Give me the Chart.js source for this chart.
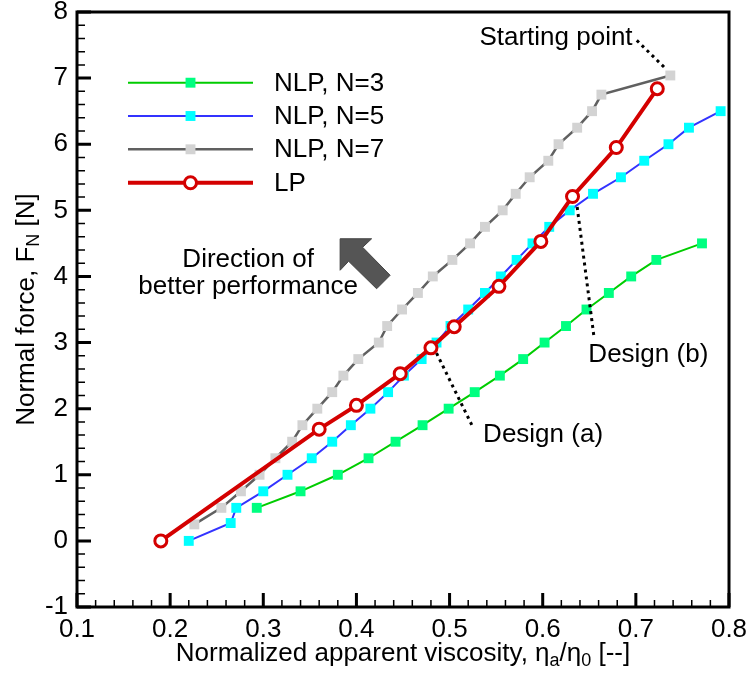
<!DOCTYPE html>
<html>
<head>
<meta charset="utf-8">
<title>Normal force vs. normalized apparent viscosity</title>
<script src="https://cdn.jsdelivr.net/npm/chart.js@4.4.0/dist/chart.umd.min.js"></script>
<style>
  html, body { margin: 0; padding: 0; background: #ffffff; }
  canvas { display: block; }
</style>
</head>
<body>
<canvas id="chart" width="749" height="677"></canvas>
<script>
// ---- Data ----------------------------------------------------------------
// NLP design, N = 3
const n3X = [0.293, 0.340, 0.380, 0.413, 0.442, 0.471, 0.499, 0.527, 0.554, 0.579,
             0.602, 0.625, 0.647, 0.671, 0.695, 0.722, 0.771];
const n3Y = [0.50, 0.75, 1.00, 1.25, 1.50, 1.75, 2.00, 2.25, 2.50, 2.75,
             3.00, 3.25, 3.50, 3.75, 4.00, 4.25, 4.50];

// NLP design, N = 5
const n5X = [0.220, 0.265, 0.271, 0.300, 0.326, 0.352, 0.374, 0.394, 0.415, 0.434,
             0.451, 0.470, 0.486, 0.501, 0.520, 0.538, 0.555, 0.572, 0.589, 0.607,
             0.629, 0.654, 0.684, 0.709, 0.735, 0.757, 0.791];
const n5Y = [0.00, 0.27, 0.50, 0.75, 1.00, 1.25, 1.50, 1.75, 2.00, 2.25,
             2.50, 2.75, 3.00, 3.25, 3.50, 3.75, 4.00, 4.25, 4.50, 4.75,
             5.00, 5.25, 5.50, 5.75, 6.00, 6.25, 6.50];

// NLP design, N = 7
const n7X = [0.226, 0.255, 0.276, 0.296, 0.313, 0.331, 0.342, 0.358, 0.374, 0.386,
             0.402, 0.424, 0.433, 0.449, 0.466, 0.482, 0.503, 0.522, 0.538, 0.557,
             0.571, 0.586, 0.606, 0.617, 0.637, 0.653, 0.663, 0.737];
const n7Y = [0.25, 0.50, 0.75, 1.00, 1.25, 1.50, 1.75, 2.00, 2.25, 2.50,
             2.75, 3.00, 3.25, 3.50, 3.75, 4.00, 4.25, 4.50, 4.75, 5.00,
             5.25, 5.50, 5.75, 6.00, 6.25, 6.50, 6.75, 7.04];

// LP design
const lpX = [0.190, 0.360, 0.400, 0.447, 0.480, 0.505, 0.553, 0.598, 0.632, 0.679, 0.723];
const lpY = [0.00, 1.69, 2.05, 2.53, 2.92, 3.24, 3.85, 4.53, 5.21, 5.95, 6.84];

// Axis ticks
const xTickValues = [0.1, 0.2, 0.3, 0.4, 0.5, 0.6, 0.7, 0.8];
const xTickLabels = ['0.1', '0.2', '0.3', '0.4', '0.5', '0.6', '0.7', '0.8'];
const yTickValues = [-1, 0, 1, 2, 3, 4, 5, 6, 7, 8];
const yTickLabels = ['-1', '0', '1', '2', '3', '4', '5', '6', '7', '8'];

// ---- Styling ---------------------------------------------------------------
const FONT = '"Liberation Sans", Arial, Helvetica, sans-serif';
const FS = 26;

function toPoints(xs, ys) { return xs.map((x, i) => ({ x: x, y: ys[i] })); }

const datasets = [
  {
    label: 'NLP, N=3', data: toPoints(n3X, n3Y), order: 3,
    borderColor: '#00cc00', borderWidth: 2,
    pointStyle: 'rect', pointRadius: 7, pointBorderWidth: 0,
    pointBackgroundColor: '#00ff80'
  },
  {
    label: 'NLP, N=5', data: toPoints(n5X, n5Y), order: 1,
    borderColor: '#3333ff', borderWidth: 2,
    pointStyle: 'rect', pointRadius: 7, pointBorderWidth: 0,
    pointBackgroundColor: '#00ffff'
  },
  {
    label: 'NLP, N=7', data: toPoints(n7X, n7Y), order: 2,
    borderColor: '#606060', borderWidth: 2.5,
    pointStyle: 'rect', pointRadius: 7, pointBorderWidth: 0,
    pointBackgroundColor: '#d3d3d3'
  },
  {
    label: 'LP', data: toPoints(lpX, lpY), order: 0,
    borderColor: '#d40000', borderWidth: 4,
    pointStyle: 'circle', pointRadius: 6, pointBorderWidth: 3,
    pointBorderColor: '#d40000', pointBackgroundColor: '#ffffff'
  }
];
datasets.forEach(d => { d.showLine = true; d.tension = 0; d.fill = false; });

// ---- Drawing helpers -------------------------------------------------------
function px(chart, v) { return chart.scales.x.getPixelForValue(v); }
function py(chart, v) { return chart.scales.y.getPixelForValue(v); }

// Width and drawing of a sequence of normal / subscript text runs
function runsWidth(ctx, runs) {
  let w = 0;
  runs.forEach(r => { ctx.font = (r.sub ? 18 : FS) + 'px ' + FONT; w += ctx.measureText(r.t).width; });
  return w;
}
function drawRuns(ctx, runs, x, y) {
  runs.forEach(r => {
    ctx.font = (r.sub ? 18 : FS) + 'px ' + FONT;
    ctx.fillText(r.t, x, r.sub ? y + 7 : y);
    x += ctx.measureText(r.t).width;
  });
}

function dotted(ctx, x1, y1, x2, y2) {
  ctx.save();
  ctx.strokeStyle = '#000000';
  ctx.lineWidth = 3;
  ctx.setLineDash([3, 4]);
  ctx.beginPath();
  ctx.moveTo(x1, y1);
  ctx.lineTo(x2, y2);
  ctx.stroke();
  ctx.restore();
}

// Legend, notes and the direction arrow inside the plot
const notesPlugin = {
  id: 'notes',
  afterDatasetsDraw(chart) {
    const ctx = chart.ctx;
    ctx.save();
    ctx.fillStyle = '#000000';
    ctx.textBaseline = 'middle';

    // Legend
    const rows = [82.7, 116, 149.3, 182.7];
    datasets.forEach((d, i) => {
      const y = rows[i];
      ctx.save();
      ctx.strokeStyle = d.borderColor;
      ctx.lineWidth = d.borderWidth;
      ctx.beginPath();
      ctx.moveTo(128, y);
      ctx.lineTo(253, y);
      ctx.stroke();
      ctx.fillStyle = d.pointBackgroundColor;
      ctx.strokeStyle = d.pointBorderColor || d.borderColor;
      ctx.lineWidth = d.pointBorderWidth;
      ctx.beginPath();
      if (d.pointStyle === 'rect') {
        const s = d.pointRadius * Math.SQRT1_2;
        ctx.rect(190.5 - s, y - s, 2 * s, 2 * s);
        ctx.fill();
      } else {
        ctx.arc(190.5, y, d.pointRadius, 0, Math.PI * 2);
        ctx.fill();
        ctx.stroke();
      }
      ctx.restore();
      ctx.font = FS + 'px ' + FONT;
      ctx.textAlign = 'left';
      ctx.fillText(d.label, 274, y + 1);
    });

    // Starting point note
    dotted(ctx, px(chart, 0.701), py(chart, 7.57), px(chart, 0.733), py(chart, 7.13));
    ctx.textAlign = 'right';
    ctx.font = FS + 'px ' + FONT;
    ctx.fillText('Starting point', px(chart, 0.6965), py(chart, 7.61));

    // Design (a)
    dotted(ctx, px(chart, 0.486), py(chart, 2.84), px(chart, 0.525), py(chart, 1.72));
    ctx.textAlign = 'left';
    ctx.fillText('Design (a)', px(chart, 0.536), py(chart, 1.60));

    // Design (b)
    dotted(ctx, px(chart, 0.637), py(chart, 5.05), px(chart, 0.655), py(chart, 3.09));
    ctx.fillText('Design (b)', px(chart, 0.649), py(chart, 2.81));

    // Direction of better performance
    ctx.textAlign = 'center';
    const cx = px(chart, 0.2837);
    ctx.fillText('Direction of', cx, py(chart, 4.25));
    ctx.fillText('better performance', cx, py(chart, 3.84));

    const tx = px(chart, 0.3825), ty = py(chart, 4.57);
    const arrow = [[0, 0], [31.5, 0], [22.5, 8.5], [50, 36.5], [36.5, 50], [8.5, 22.5], [0, 31.5]];
    ctx.fillStyle = '#555555';
    ctx.strokeStyle = '#444444';
    ctx.lineWidth = 1;
    ctx.beginPath();
    arrow.forEach((p, i) => i ? ctx.lineTo(tx + p[0], ty + p[1]) : ctx.moveTo(tx + p[0], ty + p[1]));
    ctx.closePath();
    ctx.fill();
    ctx.stroke();

    ctx.restore();
  }
};

// Frame, inward ticks, tick labels and axis titles
const axesPlugin = {
  id: 'axes',
  afterDraw(chart) {
    const ctx = chart.ctx;
    const a = chart.chartArea;
    ctx.save();
    ctx.strokeStyle = '#000000';
    ctx.lineCap = 'butt';

    // minor ticks
    ctx.lineWidth = 1.5;
    ctx.beginPath();
    for (let i = 0; i <= 35; i++) {
      if (i % 5 === 0) continue;
      const x = px(chart, 0.1 + i * 0.02);
      ctx.moveTo(x, a.bottom); ctx.lineTo(x, a.bottom - 7);
    }
    for (let i = 0; i <= 45; i++) {
      if (i % 5 === 0) continue;
      const y = py(chart, -1 + i * 0.2);
      ctx.moveTo(a.left, y); ctx.lineTo(a.left + 8, y);
    }
    ctx.stroke();

    // major ticks
    ctx.lineWidth = 3;
    ctx.beginPath();
    xTickValues.forEach(v => { const x = px(chart, v); ctx.moveTo(x, a.bottom); ctx.lineTo(x, a.bottom - 14); });
    yTickValues.forEach(v => { const y = py(chart, v); ctx.moveTo(a.left, y); ctx.lineTo(a.left + 14, y); });
    ctx.stroke();

    // frame
    ctx.lineWidth = 3;
    ctx.strokeRect(a.left, a.top, a.right - a.left, a.bottom - a.top);

    // tick labels
    ctx.fillStyle = '#000000';
    ctx.font = FS + 'px ' + FONT;
    ctx.textAlign = 'center';
    ctx.textBaseline = 'top';
    xTickValues.forEach((v, i) => ctx.fillText(xTickLabels[i], px(chart, v), a.bottom + 10));
    ctx.textAlign = 'right';
    ctx.textBaseline = 'middle';
    yTickValues.forEach((v, i) => ctx.fillText(yTickLabels[i], a.left - 9, py(chart, v)));

    // x title
    ctx.textAlign = 'left';
    ctx.textBaseline = 'middle';
    const xRuns = [
      { t: 'Normalized apparent viscosity, \u03b7' }, { t: 'a', sub: true },
      { t: '/\u03b7' }, { t: '0', sub: true }, { t: ' [--]' }
    ];
    const xw = runsWidth(ctx, xRuns);
    drawRuns(ctx, xRuns, (a.left + a.right) / 2 - xw / 2, 654);

    // y title
    const yRuns = [{ t: 'Normal force, F' }, { t: 'N', sub: true }, { t: ' [N]' }];
    const yw = runsWidth(ctx, yRuns);
    ctx.translate(27, (a.top + a.bottom) / 2);
    ctx.rotate(-Math.PI / 2);
    drawRuns(ctx, yRuns, -yw / 2, 0);

    ctx.restore();
  }
};

new Chart(document.getElementById('chart'), {
  type: 'scatter',
  data: { datasets: datasets },
  options: {
    responsive: false,
    animation: false,
    devicePixelRatio: 1,
    layout: { padding: { left: 77, top: 12, right: 20, bottom: 70 } },
    plugins: { legend: { display: false }, tooltip: { enabled: false } },
    scales: {
      x: { type: 'linear', min: 0.1, max: 0.8, display: false },
      y: { type: 'linear', min: -1, max: 8, display: false }
    }
  },
  plugins: [notesPlugin, axesPlugin]
});
</script>
</body>
</html>
